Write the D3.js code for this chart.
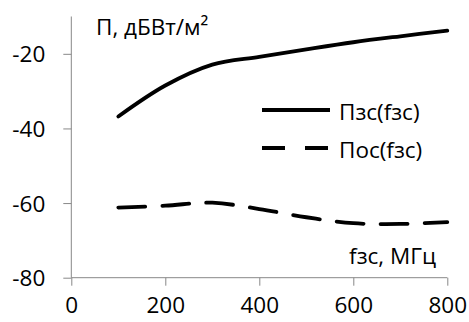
<!DOCTYPE html>
<html>
<head>
<meta charset="utf-8">
<script src="https://cdn.jsdelivr.net/npm/d3@7"></script>
<style>
  html, body { margin: 0; padding: 0; background: #fff; }
  svg text { font-family: "Open Sans", sans-serif; fill: #000; }
</style>
</head>
<body>
<svg id="chart" width="469" height="322"></svg>
<script>
const freq = [100, 200, 300, 400, 500, 600, 700, 800];
const pzs  = [-36.8, -28.5, -22.9, -20.8, -18.8, -16.9, -15.3, -13.8];
const pos  = [-61.2, -60.7, -59.9, -61.6, -63.8, -65.4, -65.6, -65.1];
const xTicks = [0, 200, 400, 600, 800];
const yTicks = [-80, -60, -40, -20];
const seriesNames = ["Пзс(fзс)", "Пос(fзс)"];
const yTitle = "П, дБВт/м²";
const xTitle = "fзс, МГц";

const svg = d3.select("#chart");
const x = d3.scaleLinear().domain([0, 800]).range([71.3, 447.3]);
const y = d3.scaleLinear().domain([-80, -10]).range([277.7, 16.5]);
const axisColor = "#888888";
const fs = 22.5;

// Y axis
const gy = svg.append("g").attr("transform", `translate(${x(0)},0)`)
  .call(d3.axisLeft(y).tickValues(yTicks).tickSize(8).tickPadding(18).tickFormat(d3.format("d")));
gy.select(".domain").attr("stroke", axisColor).attr("d", `M0,${y(-10)}V${y(-80)}`);
gy.selectAll(".tick line").attr("stroke", axisColor);
gy.selectAll(".tick text").attr("font-size", fs).attr("font-family", "Open Sans").attr("dy", "0.36em")
  .text(d => d < 0 ? "-" + Math.abs(d) : d);

// X axis
const gx = svg.append("g").attr("transform", `translate(0,${y(-80)})`)
  .call(d3.axisBottom(x).tickValues(xTicks).tickSize(8).tickPadding(11).tickFormat(d3.format("d")));
gx.select(".domain").attr("stroke", axisColor).attr("d", `M${x(0)},0H${x(800)}`);
gx.selectAll(".tick line").attr("stroke", axisColor);
gx.selectAll(".tick text").attr("font-size", fs).attr("font-family", "Open Sans");

const line = d3.line().x((d, i) => x(freq[i])).y(d => y(d)).curve(d3.curveCatmullRom.alpha(0.5));

svg.append("path").datum(pzs).attr("d", line).attr("fill", "none")
  .attr("stroke", "#000").attr("stroke-width", 3.8).attr("stroke-linecap", "round");
svg.append("path").datum(pos).attr("d", line).attr("fill", "none")
  .attr("stroke", "#000").attr("stroke-width", 3.8).attr("stroke-dasharray", "27,17").attr("stroke-linecap", "round");

// Titles
svg.append("text").attr("x", 96).attr("y", 35).attr("font-size", fs).text(yTitle);
svg.append("text").attr("x", 436).attr("y", 264).attr("text-anchor", "end").attr("font-size", fs).text(xTitle);

// Legend
const legY = [110, 148];
svg.append("line").attr("x1", 262).attr("x2", 330).attr("y1", legY[0]).attr("y2", legY[0])
  .attr("stroke", "#000").attr("stroke-width", 3.8);
svg.append("line").attr("x1", 262).attr("x2", 330).attr("y1", legY[1]).attr("y2", legY[1])
  .attr("stroke", "#000").attr("stroke-width", 3.8).attr("stroke-dasharray", "23,20");
seriesNames.forEach((n, i) => {
  svg.append("text").attr("x", 339).attr("y", legY[i] + 9.5).attr("font-size", fs).text(n);
});
</script>
</body>
</html>
